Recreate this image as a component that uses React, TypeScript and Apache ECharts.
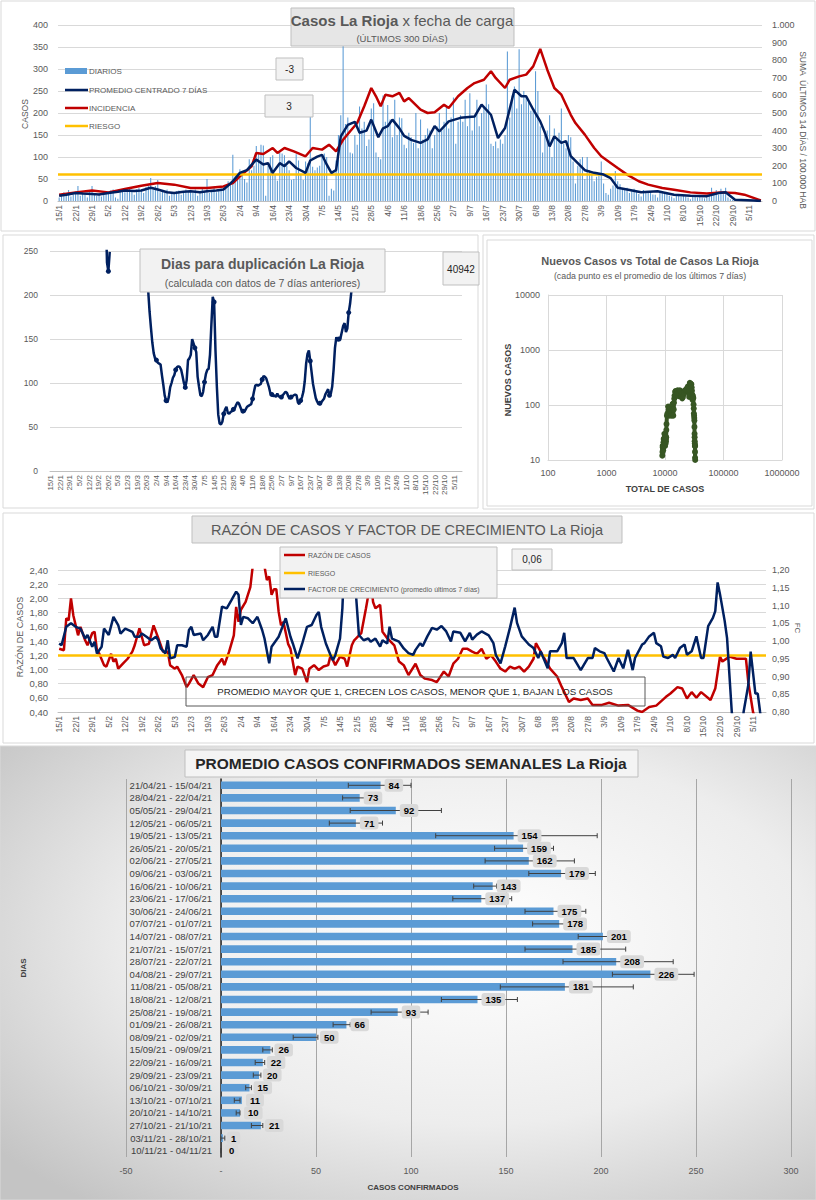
import React, { useEffect, useRef } from "react";
import * as echarts from "echarts";

const FONT = "'Liberation Sans', Arial, sans-serif";
const GRAY = "#595959";

// ---------- dates (category labels) ----------
const MONTH_LENGTHS = [31, 28, 31, 30, 31, 30, 31, 31, 30, 31, 30, 31];
const START_DAY = 15;
const START_MONTH = 1;
const N_DAYS = 300;
function buildDates(): string[] {
  const out: string[] = [];
  let d = START_DAY;
  let m = START_MONTH;
  for (let i = 0; i < N_DAYS; i++) {
    out.push(`${d}/${m}`);
    d++;
    if (d > MONTH_LENGTHS[m - 1]) { d = 1; m++; }
  }
  return out;
}
const DATES = buildDates();

// ---------- panel 1: daily cases ----------
const DAILY_CASES = [
  8, 14, 20, 12, 25, 10, 15,
  18, 34, 12, 20, 15, 8, 22,
  34, 15, 12, 18, 10, 14, 16,
  20, 24, 26, 8, 5, 22, 25,
  20, 28, 30, 22, 14, 26, 30,
  24, 18, 32, 35, 52, 26, 34,
  48, 20, 22, 18, 26, 12, 20,
  16, 22, 24, 14, 18, 26, 22,
  24, 20, 26, 12, 18, 28, 22,
  50, 18, 24, 30, 20, 26, 28,
  30, 36, 45, 40, 105, 58, 62,
  72, 66, 50, 42, 95, 70, 80,
  125, 110, 128, 126, 12, 80, 100,
  104, 62, 46, 110, 108, 104, 80,
  70, 48, 50, 106, 92, 62, 48,
  90, 86, 196, 78, 70, 76, 80,
  104, 108, 100, 12, 28, 24, 92,
  150, 195, 360, 175, 190, 110, 108,
  150, 128, 215, 165, 180, 125, 140,
  210, 222, 110, 100, 95, 240, 180,
  218, 185, 145, 230, 150, 190, 188,
  128, 120, 155, 145, 132, 200, 120,
  185, 140, 150, 165, 160, 120, 150,
  170, 200, 160, 180, 215, 165, 190,
  235, 130, 180, 195, 180, 230, 170,
  245, 160, 195, 230, 170, 200, 215,
  265, 220, 130, 125, 135, 120, 140,
  130, 150, 340, 190, 240, 260, 210,
  345, 220, 250, 240, 230, 205, 205,
  295, 250, 170, 110, 150, 160, 195,
  100, 165, 140, 155, 210, 130, 120,
  150, 145, 90, 40, 80, 95, 100,
  50, 100, 70, 60, 45, 55, 60,
  90, 40, 18, 14, 28, 35, 68,
  45, 38, 28, 25, 30, 18, 22,
  28, 22, 16, 10, 25, 20, 18,
  22, 15, 14, 8, 18, 22, 16,
  18, 12, 10, 6, 14, 15, 10,
  12, 10, 8, 4, 10, 12, 8,
  10, 8, 6, 12, 18, 30, 20,
  25, 15, 28, 22, 30, 8, 4,
  2, 1, 0, 3, 1, 0, 2,
  0, 1, 0, 0, 2, 0,
];
// [day index, 7-day centred average]
const AVG7 = [
  [0, 12], [3, 14], [7, 18], [10, 17], [14, 16], [17, 15], [21, 18], [25, 21], [28, 24], [32, 23],
  [35, 24], [39, 30], [42, 26], [46, 20], [49, 18], [53, 21], [56, 22], [60, 20], [63, 22], [67, 24],
  [70, 26], [72, 35], [74, 45], [77, 64], [80, 70], [84, 94], [87, 83], [89, 86], [91, 64], [94, 86],
  [96, 79], [98, 90], [101, 75], [105, 64], [107, 92], [110, 101], [112, 105], [114, 83], [116, 64], [118, 70],
  [120, 147], [123, 173], [126, 180], [128, 155], [131, 160], [133, 185], [136, 145], [138, 165], [140, 170], [142, 185],
  [145, 165], [147, 148], [150, 139], [154, 132], [157, 140], [160, 170], [162, 158], [166, 181], [171, 189], [177, 192],
  [180, 219], [184, 196], [187, 143], [190, 166], [194, 253], [197, 238], [199, 238], [202, 208], [205, 181], [207, 155],
  [209, 124], [211, 147], [214, 132], [216, 136], [218, 102], [221, 86], [224, 70], [228, 64], [232, 60], [235, 52],
  [238, 30], [242, 26], [248, 20], [255, 22], [262, 14], [269, 12], [276, 11], [281, 18], [284, 20], [288, 3],
  [296, 1], [299, 0],
];
// [day index, sum of last 14 days / 100.000 hab]
const INCIDENCE = [
  [0, 36], [7, 49], [14, 59], [21, 49], [28, 68], [35, 87], [42, 102], [49, 93], [56, 74], [63, 74],
  [70, 83], [74, 102], [77, 140], [82, 197], [84, 273], [87, 267], [91, 301], [93, 273], [96, 301], [100, 282],
  [105, 254], [108, 301], [112, 292], [115, 320], [118, 282], [121, 348], [124, 396], [127, 443], [130, 538], [133, 642],
  [135, 595], [137, 538], [139, 604], [142, 595], [145, 614], [147, 566], [149, 585], [154, 519], [157, 500], [160, 504],
  [164, 547], [166, 528], [170, 595], [174, 642], [177, 670], [181, 689], [184, 737], [186, 699], [190, 642], [192, 689],
  [196, 708], [199, 718], [202, 765], [205, 864], [208, 746], [211, 642], [214, 604], [218, 490], [220, 443], [224, 377],
  [228, 301], [231, 254], [235, 216], [238, 187], [242, 150], [247, 112], [251, 93], [257, 74], [262, 64], [269, 49],
  [276, 42], [282, 49], [288, 45], [292, 36], [298, 8], [299, 3],
];
const RISK_CASES = 60;

// ---------- panel 2: doubling days ----------
const DUP_DOT = [[30, 249]];
const DUP_SEG = [[40, 300], [41, 237], [42, 227], [43, 249]];
const DUP_MAIN = [
  [70, 300], [71, 205], [72, 181], [73, 163], [74, 146], [75, 134], [76, 128], [77, 126], [78, 123], [79, 122],
  [80, 121], [81, 109], [82, 98], [83, 86], [84, 80], [85, 78], [86, 84], [87, 95], [88, 100], [89, 106],
  [90, 109], [91, 115], [92, 118], [93, 119], [94, 118], [95, 115], [96, 108], [97, 100], [98, 95], [99, 103],
  [100, 126], [101, 128], [102, 132], [103, 150], [104, 145], [105, 140], [106, 135], [107, 107], [108, 96], [109, 86],
  [110, 85], [111, 90], [112, 101], [113, 110], [114, 115], [115, 116], [116, 132], [117, 166], [118, 198], [119, 192],
  [120, 137], [121, 96], [122, 64], [123, 54], [124, 53], [125, 56], [126, 65], [127, 70], [128, 73], [129, 66],
  [130, 65], [131, 67], [132, 68], [133, 70], [134, 71], [135, 75], [136, 78], [137, 77], [138, 73], [139, 69],
  [140, 68], [141, 67], [142, 70], [143, 73], [144, 74], [145, 75], [146, 76], [147, 82], [148, 90], [149, 97],
  [150, 98], [151, 97], [152, 98], [153, 99], [154, 104], [155, 108], [156, 107], [157, 105], [158, 100], [159, 95],
  [160, 88], [161, 87], [162, 85], [163, 86], [164, 84], [165, 88], [166, 85], [167, 84], [168, 84], [169, 86],
  [170, 88], [171, 90], [172, 89], [173, 85], [174, 82], [175, 84], [176, 85], [177, 86], [178, 87], [179, 86],
  [180, 78], [181, 76], [182, 80], [183, 84], [184, 90], [185, 102], [186, 122], [187, 133], [188, 137], [189, 125],
  [190, 112], [191, 99], [192, 91], [193, 83], [194, 79], [195, 76], [196, 77], [197, 78], [198, 80], [199, 82],
  [200, 87], [201, 90], [202, 93], [203, 86], [204, 88], [205, 96], [206, 115], [207, 140], [208, 152], [209, 148],
  [210, 150], [211, 151], [212, 158], [213, 165], [214, 168], [215, 158], [216, 162], [217, 180], [218, 190], [219, 205],
  [220, 234], [221, 300],
];

// ---------- panel 3: new vs total (log-log) ----------
const SCATTER_POINTS = [
  [9000, 12], [9060, 14], [9120, 18], [9180, 17], [9240, 16], [9300, 15], [9360, 18], [9430, 21], [9500, 24], [9580, 23],
  [9670, 24], [9760, 30], [9860, 26], [9940, 20], [10020, 18], [10090, 21], [10160, 22], [10240, 20], [10310, 22], [10400, 24],
  [10480, 26], [10540, 35], [10620, 45], [10800, 64], [11000, 70], [11320, 94], [11600, 83], [11750, 86], [11900, 64], [12150, 86],
  [12300, 79], [12450, 90], [12700, 75], [12950, 64], [13200, 92], [13400, 101], [13550, 105], [13700, 83], [13850, 64], [14100, 83],
  [14250, 110], [14400, 130], [14550, 147], [14900, 173], [15250, 180], [15600, 155], [16000, 160], [16400, 185], [16700, 160], [17050, 145],
  [17350, 165], [17600, 170], [17950, 185], [18250, 180], [18700, 148], [19200, 139], [19700, 132], [20200, 140], [20750, 170], [21100, 158],
  [21500, 170], [22000, 185], [22650, 189], [23300, 190], [24000, 205], [24700, 219], [25100, 205], [25500, 180], [25900, 140], [26200, 190],
  [26600, 253], [27000, 245], [27350, 238], [27800, 240], [28250, 238], [28600, 208], [28900, 181], [29200, 155], [29500, 124], [29900, 147],
  [30200, 132], [30450, 136], [30800, 102], [31000, 86], [31150, 70], [31400, 64], [31600, 58], [31750, 52], [31880, 40], [32000, 30],
  [32100, 26], [32170, 22], [32320, 20], [32450, 18], [32550, 14], [32630, 11], [32750, 18], [32850, 10],
];

// ---------- panel 4: ratio and growth factor ----------
const RATIO = [
  [0, 1.29], [2, 1.27], [3, 1.72], [4, 1.69], [5, 2.0], [6, 1.76], [8, 1.48], [9, 1.6], [11, 1.41], [12, 1.34],
  [14, 1.51], [15, 1.53], [16, 1.27], [17, 1.22], [19, 1.06], [20, 1.04], [22, 1.22], [23, 1.11], [24, 1.15], [25, 1.01],
  [27, 1.08], [29, 1.15], [31, 1.25], [32, 1.34], [34, 1.58], [36, 1.34], [38, 1.36], [40, 1.62], [42, 1.44], [44, 1.25],
  [46, 1.25], [47, 1.06], [49, 1.01], [50, 1.04], [52, 0.92], [54, 0.75], [55, 0.8], [57, 0.92], [59, 0.8], [61, 0.75],
  [63, 0.89], [65, 0.92], [67, 1.06], [69, 1.15], [70, 1.06], [72, 1.25], [74, 1.48], [75, 1.88], [76, 1.67], [77, 1.84],
  [79, 1.95], [81, 2.16], [82, 2.45], [84, 2.8], [86, 2.7], [87, 2.45], [88, 2.26], [89, 2.31], [90, 2.05], [91, 2.13],
  [92, 2.13], [93, 1.81], [94, 1.62], [95, 1.67], [97, 1.36], [98, 1.29], [100, 0.92], [101, 1.04], [103, 1.01], [105, 0.82],
  [106, 1.01], [108, 1.06], [110, 0.99], [112, 1.04], [114, 1.06], [115, 1.2], [117, 1.06], [119, 1.18], [121, 1.15], [122, 1.04],
  [124, 1.34], [125, 1.41], [128, 1.51], [130, 1.86], [131, 2.05], [132, 2.25], [133, 1.95], [134, 1.86], [136, 1.91], [137, 1.53],
  [139, 1.44], [142, 1.34], [144, 1.11], [146, 1.06], [148, 0.92], [151, 1.08], [153, 0.92], [155, 0.87], [158, 0.85], [160, 0.82],
  [163, 0.97], [165, 0.9], [167, 1.08], [169, 1.15], [171, 1.29], [173, 1.29], [175, 1.25], [177, 1.22], [179, 1.29], [181, 1.15],
  [183, 1.2], [185, 1.11], [187, 1.01], [189, 0.97], [191, 1.04], [193, 1.01], [195, 1.04], [197, 0.97], [199, 1.04], [201, 1.15],
  [202, 1.37], [204, 1.25], [206, 1.13], [208, 1.01], [211, 0.9], [213, 0.75], [216, 0.54], [218, 0.59], [221, 0.57], [224, 0.59],
  [226, 0.5], [230, 0.5], [233, 0.53], [237, 0.49], [241, 0.5], [245, 0.42], [247, 0.4], [250, 0.47], [253, 0.49], [257, 0.61],
  [259, 0.66], [262, 0.75], [264, 0.73], [266, 0.59], [268, 0.68], [270, 0.6], [272, 0.68], [276, 0.57], [278, 0.73], [280, 1.18],
  [281, 1.11], [284, 1.18], [287, 1.15], [291, 1.15], [292, 0.82], [294, 0.4], [296, 0.2], [299, 0.1],
];
const GROWTH = [
  [0, 0.993], [1, 0.988], [3, 1.04], [5, 1.05], [7, 1.04], [9, 1.035], [11, 1.007], [12, 1.017], [14, 0.984], [15, 0.998],
  [16, 0.965], [18, 0.984], [19, 1.035], [21, 1.017], [23, 1.068], [25, 1.045], [26, 1.021], [28, 1.035], [31, 1.026], [32, 1.012],
  [34, 1.012], [35, 1.021], [37, 1.012], [39, 1.002], [41, 1.012], [42, 1.002], [43, 0.979], [45, 0.965], [46, 1.002], [47, 0.951],
  [49, 0.955], [50, 0.988], [52, 0.988], [54, 0.984], [55, 1.031], [56, 1.04], [57, 1.017], [60, 1.021], [61, 1.002], [63, 1.017],
  [65, 1.04], [66, 1.012], [67, 1.012], [69, 1.097], [71, 1.092], [73, 1.115], [75, 1.139], [76, 1.13], [77, 1.045], [78, 1.068],
  [80, 1.064], [82, 1.05], [84, 1.068], [86, 1.031], [87, 1.007], [89, 0.937], [90, 0.984], [93, 1.012], [96, 1.064], [98, 1.012],
  [99, 0.993], [101, 0.951], [103, 0.993], [105, 1.04], [107, 1.045], [109, 1.073], [110, 1.082], [111, 1.04], [113, 0.993], [115, 0.96],
  [116, 0.946], [117, 0.96], [119, 1.007], [120, 1.092], [121, 1.25], [124, 1.25], [125, 1.2], [127, 1.017], [129, 1.002], [131, 1.007],
  [132, 0.998], [134, 1.007], [136, 0.984], [137, 1.002], [139, 0.993], [140, 1.04], [141, 1.007], [144, 0.998], [146, 0.979], [148, 0.966],
  [150, 0.961], [151, 0.975], [153, 0.994], [154, 0.985], [156, 1.013], [158, 1.037], [160, 1.032], [162, 1.042], [164, 1.027], [166, 0.999],
  [167, 1.027], [170, 1.023], [172, 0.999], [174, 1.023], [175, 1.004], [177, 1.018], [179, 1.027], [182, 1.016], [184, 0.994], [185, 0.961],
  [187, 0.937], [189, 0.985], [191, 1.037], [193, 1.094], [194, 1.051], [196, 1.013], [199, 0.99], [201, 0.98], [203, 0.952], [204, 0.971],
  [207, 0.923], [208, 0.971], [211, 0.971], [213, 0.994], [214, 1.023], [215, 0.952], [218, 0.952], [221, 0.918], [224, 0.952], [226, 0.952],
  [227, 0.98], [229, 0.971], [231, 0.966], [232, 0.952], [235, 0.914], [237, 0.952], [239, 0.923], [241, 0.975], [243, 0.918], [244, 0.952],
  [247, 0.99], [248, 0.994], [250, 1.013], [252, 1.023], [253, 0.994], [255, 0.985], [256, 0.956], [258, 0.952], [260, 0.961], [261, 0.952],
  [263, 0.98], [265, 0.99], [266, 0.961], [268, 0.971], [270, 1.013], [272, 0.952], [273, 0.952], [275, 1.042], [277, 1.065], [278, 1.084],
  [279, 1.165], [280, 1.132], [282, 1.056], [283, 1.008], [285, 0.8], [287, 0.7], [289, 0.7], [290, 0.8], [292, 0.876], [293, 0.97],
  [295, 0.852], [296, 0.852], [297, 0.8], [299, 0.7],
];
const RISK_RATIO = 1.2;

// ---------- panel 5: weekly averages ----------
const WEEK_LABELS = [
  "21/04/21 - 15/04/21", "28/04/21 - 22/04/21", "05/05/21 - 29/04/21", "12/05/21 - 06/05/21",
  "19/05/21 - 13/05/21", "26/05/21 - 20/05/21", "02/06/21 - 27/05/21", "09/06/21 - 03/06/21",
  "16/06/21 - 10/06/21", "23/06/21 - 17/06/21", "30/06/21 - 24/06/21", "07/07/21 - 01/07/21",
  "14/07/21 - 08/07/21", "21/07/21 - 15/07/21", "28/07/21 - 22/07/21", "04/08/21 - 29/07/21",
  "11/08/21 - 05/08/21", "18/08/21 - 12/08/21", "25/08/21 - 19/08/21", "01/09/21 - 26/08/21",
  "08/09/21 - 02/09/21", "15/09/21 - 09/09/21", "22/09/21 - 16/09/21", "29/09/21 - 23/09/21",
  "06/10/21 - 30/09/21", "13/10/21 - 07/10/21", "20/10/21 - 14/10/21", "27/10/21 - 21/10/21",
  "03/11/21 - 28/10/21", "10/11/21 - 04/11/21",
];
const WEEK_AVG = [84, 73, 92, 71, 154, 159, 162, 179, 143, 137, 175, 178, 201, 185, 208, 226, 181, 135, 93, 66, 50, 26, 22, 20, 15, 11, 10, 21, 1, 0];
const WEEK_LOW = [67, 64, 68, 57, 113, 144, 139, 162, 133, 122, 160, 164, 188, 160, 180, 206, 147, 116, 79, 59, 38, 22, 18, 17, 13, 7, 8, 16, 0, 0];
const WEEK_HIGH = [100, 77, 116, 85, 198, 175, 186, 197, 145, 153, 192, 185, 204, 213, 238, 249, 217, 156, 109, 68, 51, 27, 23, 21, 16, 10, 10, 22, 2, 0];

// ---------- helpers ----------
const comma2 = (v: number) => v.toFixed(2).replace(".", ",");

function dateAxis(gridIndex: number, fontSize: number) {
  return {
    type: "category",
    gridIndex,
    data: DATES,
    boundaryGap: true,
    axisLabel: { interval: 6, rotate: 90, fontSize, color: GRAY, margin: 4, fontFamily: FONT },
    axisTick: { interval: 6, lineStyle: { color: "#bfbfbf" } },
    axisLine: { lineStyle: { color: "#bfbfbf" } },
    splitLine: { show: false },
  };
}

function txt(x: number, y: number, text: string, size: number, opts: any = {}) {
  return {
    type: "text",
    x,
    y,
    z: 100,
    rotation: opts.rotation || 0,
    style: {
      text,
      fill: opts.fill || GRAY,
      fontSize: size,
      fontFamily: FONT,
      fontWeight: opts.bold ? "bold" : "normal",
      align: opts.align || "center",
      verticalAlign: "middle",
      rich: opts.rich,
    },
  };
}
function box(x: number, y: number, w: number, h: number, fill: string, stroke = "#bfbfbf", z = 90) {
  return { type: "rect", z, shape: { x, y, width: w, height: h }, style: { fill, stroke, lineWidth: 1 } };
}
function hline(x1: number, x2: number, y: number, color: string, w = 2.5) {
  return { type: "line", z: 100, shape: { x1, y1: y, x2, y2: y }, style: { stroke: color, lineWidth: w } };
}

export default function App() {
  const ref = useRef<HTMLDivElement>(null);
  useEffect(() => {
    document.body.style.margin = "0";
    if (!ref.current) return;
    const chart = echarts.init(ref.current, undefined, { renderer: "svg" });

    const errorData = WEEK_LABELS.map((_, i) => [i, WEEK_LOW[i], WEEK_HIGH[i]]);

    const graphic: any[] = [
      // backgrounds / panel frames
      { type: "rect", z: -5, shape: { x: 0, y: 746, width: 816, height: 454 },
        style: { fill: { type: "radial", x: 0.58, y: 0.42, r: 0.75, colorStops: [{ offset: 0, color: "#ffffff" }, { offset: 0.55, color: "#ededed" }, { offset: 1, color: "#c4c4c4" }] }, stroke: "#d9d9d9" } },
      { type: "rect", z: -5, shape: { x: 1, y: 1, width: 814, height: 230 }, style: { fill: "none", stroke: "#d9d9d9", lineWidth: 1 } },
      { type: "rect", z: -5, shape: { x: 3, y: 235, width: 475, height: 273 }, style: { fill: "none", stroke: "#d9d9d9", lineWidth: 1 } },
      { type: "rect", z: -5, shape: { x: 483, y: 235, width: 331, height: 274 }, style: { fill: "none", stroke: "#d9d9d9", lineWidth: 1 } },
      { type: "rect", z: -5, shape: { x: 487, y: 240, width: 325, height: 266 }, style: { fill: "none", stroke: "#d9d9d9", lineWidth: 1 } },
      { type: "rect", z: -5, shape: { x: 3, y: 513, width: 811, height: 230 }, style: { fill: "none", stroke: "#d9d9d9", lineWidth: 1 } },

      // panel 1 title, legend and boxes
      box(291, 8, 223, 38, "#e6e6e6"),
      txt(402, 20, "{b|Casos La Rioja} {n|x fecha de carga}", 15, {
        rich: { b: { fontWeight: "bold", fontSize: 15, fill: GRAY, fontFamily: FONT }, n: { fontSize: 15, fill: GRAY, fontFamily: FONT } },
      }),
      txt(402, 38, "(ÚLTIMOS 300 DÍAS)", 9.5),
      { type: "rect", z: 100, shape: { x: 65, y: 68, width: 22, height: 6 }, style: { fill: "#5b9bd5" } },
      txt(89, 71, "DIARIOS", 8, { align: "left" }),
      hline(65, 88, 90, "#002060"),
      txt(89, 90, "PROMEDIO CENTRADO 7 DÍAS", 8, { align: "left" }),
      hline(65, 88, 108, "#c00000"),
      txt(89, 108, "INCIDENCIA", 8, { align: "left" }),
      hline(65, 88, 126, "#ffc000"),
      txt(89, 126, "RIESGO", 8, { align: "left" }),
      box(276, 58, 27, 22, "#f2f2f2"),
      txt(289.5, 69, "-3", 10, { fill: "#262626" }),
      box(265, 95, 48, 22, "#f2f2f2"),
      txt(289, 106, "3", 10, { fill: "#262626" }),
      txt(25, 114, "CASOS", 8.5, { rotation: Math.PI / 2 }),
      txt(803, 130, "SUMA  ÚLTIMOS 14 DÍAS / 100.000 HAB", 8.5, { rotation: -Math.PI / 2 }),

      // panel 2
      box(140, 249, 245, 43, "#f2f2f2"),
      txt(262.5, 264, "Dias para duplicación La Rioja", 14, { bold: true }),
      txt(262.5, 283, "(calculada con datos de 7 días anteriores)", 10.5),
      box(443, 252, 36, 33, "#f2f2f2"),
      txt(461, 269, "40942", 10, { fill: "#262626" }),

      // panel 3
      txt(650, 261, "Nuevos Casos vs Total de Casos La Rioja", 11, { bold: true }),
      txt(650, 276, "(cada punto es el promedio de los últimos 7 días)", 8.8),
      txt(508, 380, "NUEVOS CASOS", 9, { bold: true, rotation: Math.PI / 2, fill: "#404040" }),
      txt(665, 489, "TOTAL DE CASOS", 9, { bold: true, fill: "#404040" }),

      // panel 4
      box(192, 516, 430, 27, "#e6e6e6"),
      txt(407, 530, "RAZÓN DE CASOS Y FACTOR DE CRECIMIENTO La Rioja", 14.5),
      box(280, 547, 217, 51, "#f2f2f2"),
      hline(284, 305, 555, "#c00000"),
      txt(308, 555, "RAZÓN DE CASOS", 7, { align: "left" }),
      hline(284, 305, 573, "#ffc000"),
      txt(308, 573, "RIESGO", 7, { align: "left" }),
      hline(284, 305, 589, "#002060"),
      txt(308, 589, "FACTOR DE CRECIMIENTO (promedio últimos 7 días)", 7, { align: "left" }),
      box(512, 549, 40, 21, "#f2f2f2"),
      txt(532, 559.5, "0,06", 10, { fill: "#262626" }),
      { type: "rect", z: 95, shape: { x: 186, y: 677, width: 459, height: 29 }, style: { fill: "none", stroke: "#595959", lineWidth: 1 } },
      txt(415, 691.5, "PROMEDIO MAYOR QUE 1, CRECEN LOS CASOS, MENOR QUE 1, BAJAN LOS CASOS", 9.7, { fill: "#262626" }),
      txt(20, 637, "RAZÓN DE CASOS", 9, { rotation: Math.PI / 2 }),
      txt(797, 628, "FC", 8, { rotation: -Math.PI / 2 }),

      // panel 5
      box(185, 750, 453, 27, "#f4f4f4"),
      txt(411, 763.5, "PROMEDIO CASOS CONFIRMADOS SEMANALES La Rioja", 15.5, { bold: true, fill: "#262626" }),
      txt(23, 968, "DIAS", 8, { bold: true, rotation: Math.PI / 2, fill: "#404040" }),
      txt(413, 1187, "CASOS CONFIRMADOS", 8, { bold: true, fill: "#404040" }),
    ];

    const axisLabelBase = { color: GRAY, fontSize: 9, fontFamily: FONT };
    const split = { show: true, lineStyle: { color: "#d9d9d9", width: 1 } };

    const option: any = {
      animation: false,
      textStyle: { fontFamily: FONT },
      grid: [
        { left: 58, top: 25, width: 704, height: 176 },
        { left: 50, top: 251, width: 412, height: 220 },
        { left: 548, top: 295, width: 234, height: 165 },
        { left: 58, top: 570, width: 708, height: 142 },
        { left: 126, top: 779, width: 665, height: 378 },
      ],
      xAxis: [
        dateAxis(0, 8.5),
        dateAxis(1, 8),
        {
          type: "log", gridIndex: 2, logBase: 10, min: 100, max: 1000000,
          axisLabel: { ...axisLabelBase, margin: 8, formatter: (v: number) => String(Math.round(v)) },
          axisLine: { show: true, lineStyle: { color: "#d9d9d9" } },
          axisTick: { show: false },
          splitLine: split,
          minorTick: { show: false },
        },
        dateAxis(3, 8.5),
        {
          type: "value", gridIndex: 4, min: -50, max: 300, interval: 50,
          axisLabel: { ...axisLabelBase, margin: 9, formatter: (v: number) => (v === 0 ? "-" : String(v)) },
          axisLine: { show: false },
          axisTick: { show: false },
          splitLine: { show: true, lineStyle: { color: "#a6a6a6", width: 1 } },
        },
      ],
      yAxis: [
        { type: "value", gridIndex: 0, min: 0, max: 400, interval: 50, axisLabel: { ...axisLabelBase, margin: 10 }, splitLine: split, axisLine: { show: false }, axisTick: { show: false } },
        { type: "value", gridIndex: 0, position: "right", min: 0, max: 1000, interval: 100,
          axisLabel: { ...axisLabelBase, margin: 10, formatter: (v: number) => (v === 1000 ? "1.000" : String(v)) },
          splitLine: { show: false }, axisLine: { show: false }, axisTick: { show: false } },
        { type: "value", gridIndex: 1, min: 0, max: 250, interval: 50, axisLabel: { ...axisLabelBase, fontSize: 8.5, margin: 12 }, splitLine: split, axisLine: { show: false }, axisTick: { show: false } },
        { type: "log", gridIndex: 2, logBase: 10, min: 10, max: 10000,
          axisLabel: { ...axisLabelBase, margin: 8, formatter: (v: number) => String(Math.round(v)) },
          splitLine: split, axisLine: { show: true, lineStyle: { color: "#d9d9d9" } }, axisTick: { show: false } },
        { type: "value", gridIndex: 3, min: 0.4, max: 2.4, interval: 0.2,
          axisLabel: { ...axisLabelBase, fontSize: 9.5, margin: 10, formatter: comma2 },
          splitLine: split, axisLine: { show: false }, axisTick: { show: false } },
        { type: "value", gridIndex: 3, position: "right", min: 0.8, max: 1.2, interval: 0.05,
          axisLabel: { ...axisLabelBase, margin: 6, formatter: comma2 },
          splitLine: { show: false }, axisLine: { show: false }, axisTick: { show: false } },
        { type: "category", gridIndex: 4, data: WEEK_LABELS, inverse: true,
          axisLabel: { interval: 0, color: "#404040", fontSize: 9.5, fontFamily: FONT, margin: -86 },
          axisTick: { show: false },
          axisLine: { show: true, onZero: true, lineStyle: { color: "#262626", width: 1.5 } } },
      ],
      series: [
        // panel 1
        {
          name: "DIARIOS", type: "bar", xAxisIndex: 0, yAxisIndex: 0, data: DAILY_CASES, barWidth: "45%",
          itemStyle: { color: "#5b9bd5" }, z: 2,
          markLine: { silent: true, symbol: ["none", "none"], label: { show: false },
            lineStyle: { color: "#ffc000", width: 2.5, type: "solid" }, data: [{ yAxis: RISK_CASES }] },
        },
        { name: "INCIDENCIA", type: "line", xAxisIndex: 0, yAxisIndex: 1, data: INCIDENCE, showSymbol: false, symbol: "none",
          lineStyle: { color: "#c00000", width: 2.5 }, itemStyle: { color: "#c00000" }, z: 4 },
        { name: "PROMEDIO CENTRADO 7 DÍAS", type: "line", xAxisIndex: 0, yAxisIndex: 0, data: AVG7, showSymbol: false, symbol: "none",
          lineStyle: { color: "#002060", width: 2.5 }, itemStyle: { color: "#002060" }, z: 5 },

        // panel 2
        ...[DUP_DOT, DUP_SEG, DUP_MAIN].map((d) => ({
          type: "line", xAxisIndex: 1, yAxisIndex: 2, data: d, symbol: "circle", symbolSize: 5, showSymbol: true,
          lineStyle: { color: "#002060", width: 2.5 }, itemStyle: { color: "#002060" }, z: 4, clip: true,
        })),

        // panel 3
        { type: "line", xAxisIndex: 2, yAxisIndex: 3, data: SCATTER_POINTS, symbol: "circle", symbolSize: 6, showSymbol: true,
          lineStyle: { color: "#375623", width: 4 }, itemStyle: { color: "#375623" }, z: 4 },

        // panel 4
        {
          name: "RAZÓN DE CASOS", type: "line", xAxisIndex: 3, yAxisIndex: 4, data: RATIO, symbol: "none", showSymbol: false,
          lineStyle: { color: "#c00000", width: 2.5 }, z: 4, clip: true,
          markLine: { silent: true, symbol: ["none", "none"], label: { show: false },
            lineStyle: { color: "#ffc000", width: 2.5, type: "solid" }, data: [{ yAxis: RISK_RATIO }] },
        },
        { name: "FACTOR DE CRECIMIENTO", type: "line", xAxisIndex: 3, yAxisIndex: 5, data: GROWTH, symbol: "none", showSymbol: false,
          lineStyle: { color: "#002060", width: 2.5 }, z: 5, clip: true },

        // panel 5
        { type: "bar", xAxisIndex: 4, yAxisIndex: 6, data: WEEK_AVG, barWidth: "60%", barGap: "-100%",
          itemStyle: { color: "#5b9bd5" }, z: 2 },
        {
          type: "custom", xAxisIndex: 4, yAxisIndex: 6, data: errorData, z: 3,
          encode: { x: [1, 2], y: 0 },
          renderItem: (params: any, api: any) => {
            const cat = api.value(0);
            const p1 = api.coord([api.value(1), cat]);
            const p2 = api.coord([api.value(2), cat]);
            const h = 2.5;
            const st = { stroke: "#404040", lineWidth: 1 };
            return {
              type: "group",
              children: [
                { type: "line", shape: { x1: p1[0], y1: p1[1], x2: p2[0], y2: p2[1] }, style: st },
                { type: "line", shape: { x1: p1[0], y1: p1[1] - h, x2: p1[0], y2: p1[1] + h }, style: st },
                { type: "line", shape: { x1: p2[0], y1: p2[1] - h, x2: p2[0], y2: p2[1] + h }, style: st },
              ],
            };
          },
        },
        { type: "bar", xAxisIndex: 4, yAxisIndex: 6, data: WEEK_AVG, barWidth: "60%", barGap: "-100%",
          itemStyle: { color: "transparent" }, z: 6,
          label: { show: true, position: "right", distance: 4, formatter: "{c}", color: "#000", fontWeight: "bold",
            fontSize: 9.5, fontFamily: FONT, backgroundColor: "#d9d9d9", borderRadius: 3, padding: [2, 4, 1, 4] } },
      ],
      graphic,
    };

    chart.setOption(option);
    return () => chart.dispose();
  }, []);
  return <div ref={ref} style={{ width: 816, height: 1200 }} />;
}
